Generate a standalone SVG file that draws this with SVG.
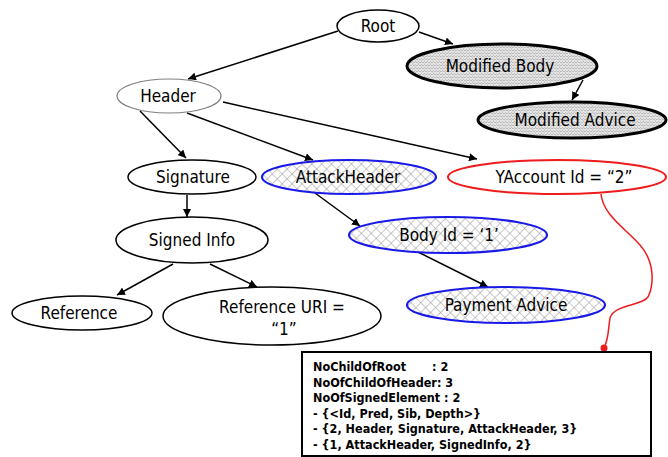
<svg xmlns="http://www.w3.org/2000/svg" width="668" height="457" viewBox="0 0 668 457">
  <defs>
    <!-- diagonal cross-hatch used by the injected nodes -->
    <pattern id="hatch" width="7" height="7" patternUnits="userSpaceOnUse" patternTransform="rotate(45)">
      <rect width="7" height="7" fill="#ffffff"/>
      <path d="M0 0 V7 M0 0 H7" stroke="#9a9a9a" stroke-width="1.1"/>
    </pattern>
    <!-- fine woven texture used by the modified nodes -->
    <pattern id="weave" width="6" height="6" patternUnits="userSpaceOnUse">
      <rect width="6" height="6" fill="#e4e4e4"/>
      <path d="M0 3 L1.5 1.5 L3 3 L4.5 1.5 L6 3 M0 6 L1.5 4.5 L3 6 L4.5 4.5 L6 6" fill="none" stroke="#a8a8a8" stroke-width="0.7"/>
      <path d="M1.5 0 V1.5 M4.5 3 V4.5" stroke="#c0c0c0" stroke-width="0.6"/>
    </pattern>
    <marker id="arrow" viewBox="0 0 10 10" refX="10" refY="5" markerWidth="8" markerHeight="8" markerUnits="userSpaceOnUse" orient="auto">
      <path d="M0 0 L10 5 L0 10 Z" fill="#000"/>
    </marker>
  </defs>
  <style>
    .lbl { font-family: "DejaVu Sans Condensed", "DejaVu Sans", sans-serif; font-size: 17px; fill: #000; text-anchor: middle; }
    .plain { fill: #fff; stroke: #000; stroke-width: 1.5; }
    .thin { fill: #fff; stroke: #808080; stroke-width: 1.2; }
    .injected { fill: url(#hatch); stroke: #1a1ae6; stroke-width: 2.2; }
    .modified { fill: url(#weave); stroke: #000; stroke-width: 3; }
    .target { fill: #fff; stroke: #ee1c1c; stroke-width: 2; }
    .edge { stroke: #000; stroke-width: 1.5; fill: none; marker-end: url(#arrow); }
    .note { font-family: "DejaVu Sans Condensed", "DejaVu Sans", sans-serif; font-size: 12.5px; font-weight: bold; fill: #000; }
  </style>

  <g id="connectors">
    <line class="edge" x1="338" y1="31" x2="188" y2="79"/>
    <line class="edge" x1="419" y1="32" x2="453" y2="44"/>
    <line class="edge" x1="583" y1="80" x2="572" y2="100"/>
    <line class="edge" x1="140" y1="111" x2="186" y2="158"/>
    <line class="edge" x1="187" y1="113" x2="313" y2="160"/>
    <line class="edge" x1="223" y1="102" x2="477" y2="159"/>
    <line class="edge" x1="187" y1="195" x2="187" y2="217"/>
    <line class="edge" x1="173" y1="264" x2="117" y2="295"/>
    <line class="edge" x1="210" y1="264" x2="257" y2="287"/>
    <line class="edge" x1="315" y1="193" x2="360" y2="226"/>
    <line class="edge" x1="418" y1="252" x2="488" y2="287"/>
    <!-- callout from the forged element to its summary -->
    <path d="M601 194 C603 215 625 228 640 245 C655 262 654 285 648 297 C642 306 614 304 610 318 C608 330 609 338 604 348" fill="none" stroke="#ee1c1c" stroke-width="1.5"/>
    <circle cx="604" cy="348" r="3.5" fill="#ee1c1c"/>
  </g>

  <g id="root">
    <ellipse class="plain" cx="378" cy="26" rx="41" ry="16"/>
    <text class="lbl" x="378" y="32">Root</text>
  </g>
  <g id="modified-body">
    <ellipse class="modified" cx="502" cy="66" rx="95" ry="22"/>
    <text class="lbl" x="500" y="72">Modified Body</text>
  </g>
  <g id="modified-advice">
    <ellipse class="modified" cx="572" cy="120" rx="94" ry="18"/>
    <text class="lbl" x="575" y="126">Modified Advice</text>
  </g>
  <g id="header">
    <ellipse class="thin" cx="169" cy="96" rx="52" ry="17"/>
    <text class="lbl" x="168" y="102">Header</text>
  </g>
  <g id="signature">
    <ellipse class="plain" cx="192" cy="177" rx="64" ry="17"/>
    <text class="lbl" x="193" y="183">Signature</text>
  </g>
  <g id="attack-header">
    <ellipse class="injected" cx="349" cy="177" rx="87" ry="17"/>
    <text class="lbl" x="348" y="183">AttackHeader</text>
  </g>
  <g id="yaccount">
    <ellipse class="target" cx="557" cy="177" rx="109" ry="17"/>
    <text class="lbl" x="564" y="183">YAccount Id = “2”</text>
  </g>
  <g id="signed-info">
    <ellipse class="plain" cx="192" cy="240" rx="76" ry="23"/>
    <text class="lbl" x="192" y="246">Signed Info</text>
  </g>
  <g id="body-id">
    <ellipse class="injected" cx="448" cy="235" rx="99" ry="18"/>
    <text class="lbl" x="449" y="241">Body Id = ‘1’</text>
  </g>
  <g id="reference">
    <ellipse class="plain" cx="82" cy="313" rx="70" ry="17"/>
    <text class="lbl" x="79" y="319">Reference</text>
  </g>
  <g id="reference-uri">
    <ellipse class="plain" cx="272" cy="316" rx="109" ry="29"/>
    <text class="lbl" x="282" y="313">Reference URI =</text>
    <text class="lbl" x="284" y="335">“1”</text>
  </g>
  <g id="payment-advice">
    <ellipse class="injected" cx="506" cy="305" rx="99" ry="18"/>
    <text class="lbl" x="506" y="311">Payment Advice</text>
  </g>

  <g id="summary">
    <rect x="302" y="352" width="349" height="104" fill="#fff" stroke="#000" stroke-width="2"/>
    <text class="note" x="313" y="371">NoChildOfRoot</text>
    <text class="note" x="432" y="371">: 2</text>
    <text class="note" x="313" y="386.5">NoOfChildOfHeader: 3</text>
    <text class="note" x="313" y="402">NoOfSignedElement : 2</text>
    <text class="note" x="313" y="417.5">- {&lt;Id, Pred, Sib, Depth&gt;}</text>
    <text class="note" x="313" y="433">- {2, Header, Signature, AttackHeader, 3}</text>
    <text class="note" x="313" y="448.5">- {1, AttackHeader, SignedInfo, 2}</text>
  </g>
</svg>
